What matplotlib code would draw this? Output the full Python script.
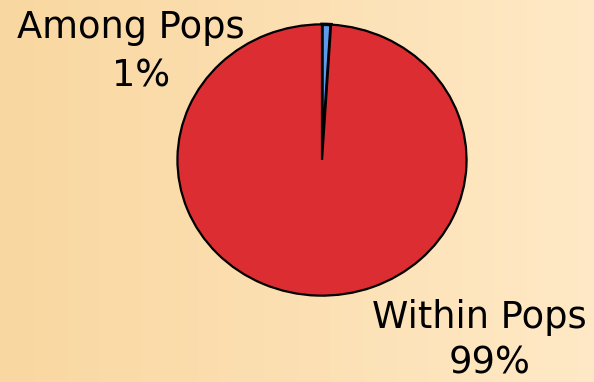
import matplotlib.pyplot as plt
import numpy as np

# Data
labels = ['Among Pops', 'Within Pops']
values = [1, 99]
pct_labels = ['1%', '99%']
colors = ['#5B9BEA', '#DC2D33']

fig = plt.figure(figsize=(5.94, 3.82), dpi=100)

# Background gradient (orange on the left, cream on the right)
bg = fig.add_axes([0, 0, 1, 1])
grad = np.linspace(0, 1, 256).reshape(1, -1)
c0 = np.array([249, 215, 160]) / 255
c1 = np.array([255, 233, 198]) / 255
img = c0[None, None, :] * (1 - grad[..., None]) + c1[None, None, :] * grad[..., None]
bg.imshow(img, aspect='auto', extent=[0, 1, 0, 1])
bg.axis('off')

# Pie (slightly wider than tall, as in the original)
ax = fig.add_axes([176 / 594, 85 / 382, 292 / 594, 274 / 382])
wedges, _ = ax.pie(values, colors=colors, startangle=90, counterclock=False,
                   wedgeprops=dict(edgecolor='black', linewidth=1.6))
wedges[0].set_linewidth(2.5)
ax.set_aspect('auto')
ax.set_xlim(-1.01, 1.01)
ax.set_ylim(-1.01, 1.01)
ax.axis('off')

# Labels
fs = 26.5
fig.text(131 / 594, 1 - 28 / 382, labels[0], ha='center', va='center', fontsize=fs)
fig.text(141 / 594, 1 - 76 / 382, pct_labels[0], ha='center', va='center', fontsize=fs)
fig.text(479 / 594, 1 - 317 / 382, labels[1], ha='center', va='center', fontsize=fs)
fig.text(490 / 594, 1 - 363 / 382, pct_labels[1], ha='center', va='center', fontsize=fs)

plt.savefig('out.png', dpi=100)
plt.close()
